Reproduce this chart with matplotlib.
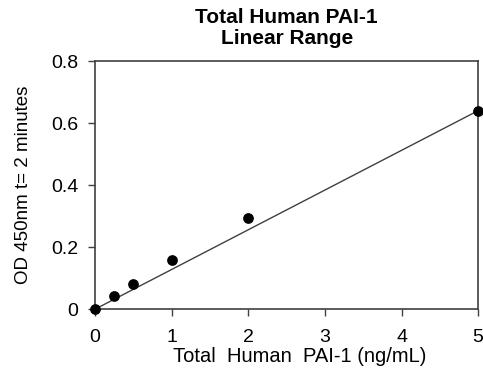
import numpy as np
import matplotlib
matplotlib.use('Agg')
import matplotlib.pyplot as plt

plt.rcParams['font.family'] = ['Liberation Sans', 'DejaVu Sans']

conc = [0, 0.25, 0.5, 1, 2, 5]
od = [0, 0.042, 0.081, 0.158, 0.293, 0.639]
fit_x = [0, 5]
fit_y = [0, 0.64]

fig = plt.figure(figsize=(4.83, 3.72), dpi=100)
ax = fig.add_axes([0.197, 0.169, 0.793, 0.667])

ax.plot(fit_x, fit_y, color='#404040', linewidth=1.0, zorder=2)
ax.scatter(conc, od, s=45, color='black', zorder=3, clip_on=False)

ax.set_xlim(0, 5)
ax.set_ylim(0, 0.8)
ax.set_xticks([0, 1, 2, 3, 4, 5])
ax.set_xticklabels(['0', '1', '2', '3', '4', '5'])
ax.set_yticks([0, 0.2, 0.4, 0.6, 0.8])
ax.set_yticklabels(['0', '0.2', '0.4', '0.6', '0.8'])

for sp in ax.spines.values():
    sp.set_color('#404040')
    sp.set_linewidth(1.2)
ax.tick_params(direction='out', length=5, width=1, color='#404040', labelsize=14)
ax.tick_params(axis='y', pad=7)
ax.tick_params(axis='x', pad=9)

ax.set_xlabel('Total  Human  PAI-1 (ng/mL)', fontsize=14.5, labelpad=1)
ax.xaxis.label.set_x(0.535)
ax.set_ylabel('OD 450nm t= 2 minutes', fontsize=13.5, labelpad=14)
ax.set_title('Total Human PAI-1\nLinear Range', fontsize=15, fontweight='bold', pad=12, linespacing=1.15)

fig.savefig('out.png', dpi=100)
